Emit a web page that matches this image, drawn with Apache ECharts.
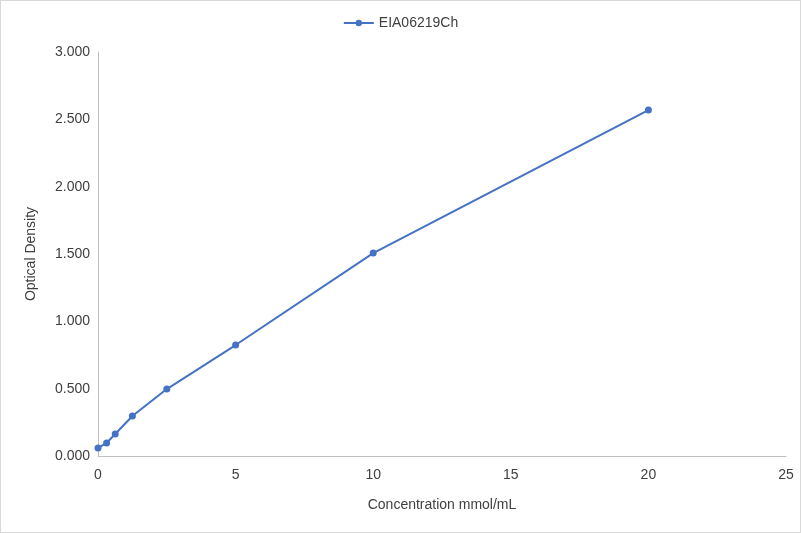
<!DOCTYPE html>
<html>
<head>
<meta charset="utf-8">
<script src="https://cdn.jsdelivr.net/npm/echarts@6/dist/echarts.min.js"></script>
<style>html,body{margin:0;padding:0;background:#fff}#chart{width:801px;height:533px;box-sizing:border-box;border:1px solid #d9d9d9}</style>
</head>
<body>
<div id="chart"></div>
<script>
const seriesName = 'EIA06219Ch'
const concentrations = [0, 0.3125, 0.625, 1.25, 2.5, 5, 10, 20]
const densities = [0.059, 0.097, 0.163, 0.297, 0.497, 0.824, 1.507, 2.569]

const myChart = echarts.init(document.getElementById('chart'))
const font = 'Arial, "Liberation Sans", sans-serif'
myChart.setOption({
  textStyle: { fontFamily: font },
  legend: {
    top: 10, left: 'center', itemWidth: 30, itemHeight: 8,
    textStyle: { fontSize: 14, color: '#404040', fontFamily: font },
    data: [seriesName]
  },
  grid: { left: 97, right: 14, top: 51, bottom: 76 },
  xAxis: {
    type: 'value', min: 0, max: 25, interval: 5,
    name: 'Concentration mmol/mL', nameLocation: 'middle', nameGap: 42,
    nameTextStyle: { fontSize: 14, color: '#404040' },
    axisLine: { lineStyle: { color: '#bfbfbf' } },
    axisTick: { show: false },
    axisLabel: { fontSize: 14, color: '#404040', margin: 12 },
    splitLine: { show: false }
  },
  yAxis: {
    type: 'value', min: 0, max: 3, interval: 0.5,
    name: 'Optical Density', nameLocation: 'middle', nameGap: 60,
    nameTextStyle: { fontSize: 14, color: '#404040' },
    axisLine: { show: true, lineStyle: { color: '#bfbfbf' } },
    axisTick: { show: false },
    axisLabel: { fontSize: 14, color: '#404040', formatter: v => v.toFixed(3) },
    splitLine: { show: false }
  },
  series: [{
    name: seriesName, type: 'line',
    data: concentrations.map((c, i) => [c, densities[i]]),
    symbol: 'circle', symbolSize: 7,
    itemStyle: { color: '#4472c4' },
    lineStyle: { color: '#4472c4', width: 2 }
  }]
})
</script>
</body>
</html>
